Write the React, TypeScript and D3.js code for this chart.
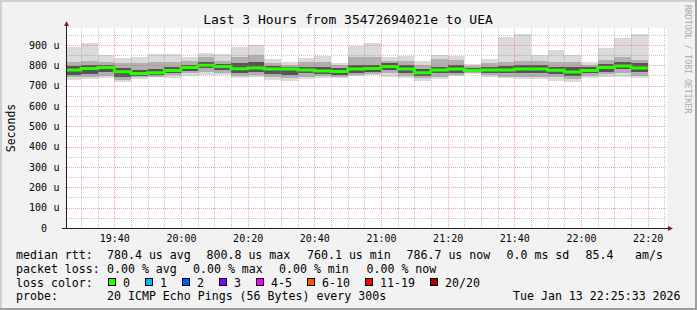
import React from 'react';
import * as d3 from 'd3';

// ---- data (5-minute bins, labelled by bin end time) ----
const binEnds = [
  "19:30", "19:35", "19:40", "19:45", "19:50", "19:55", "20:00", "20:05", "20:10", "20:15",
  "20:20", "20:25", "20:30", "20:35", "20:40", "20:45", "20:50", "20:55", "21:00", "21:05",
  "21:10", "21:15", "21:20", "21:25", "21:30", "21:35", "21:40", "21:45", "21:50", "21:55",
  "22:00", "22:05", "22:10", "22:15", "22:20",
];
// values in microseconds
const maxRtt = [892, 911, 851, 836, 843, 856, 856, 840, 862, 854, 892, 898, 830, 817, 836, 848, 813, 897, 911, 843, 846, 821, 851, 846, 805, 831, 941, 954, 851, 876, 851, 818, 884, 936, 954];
const upperQ = [818, 822, 818, 810, 810, 814, 818, 822, 843, 822, 843, 851, 810, 802, 814, 818, 802, 843, 843, 822, 822, 802, 830, 826, 798, 810, 818, 822, 822, 818, 818, 802, 826, 843, 826];
const coreHi = [798, 802, 802, 785, 777, 780, 794, 802, 816, 806, 810, 818, 798, 794, 794, 794, 785, 802, 802, 810, 802, 780, 794, 802, 789, 794, 798, 802, 802, 794, 790, 790, 806, 814, 810];
const medianRtt = [777, 784, 789, 769, 760, 764, 774, 789, 801, 794, 783, 787, 782, 782, 777, 772, 770, 782, 784, 794, 782, 764, 777, 782, 774, 777, 777, 782, 782, 776, 767, 774, 789, 797, 787];
const coreLo = [753, 756, 769, 741, 748, 753, 761, 774, 785, 777, 764, 769, 757, 753, 761, 757, 753, 764, 769, 777, 761, 748, 761, 764, 766, 764, 761, 764, 761, 757, 748, 761, 769, 780, 769];
const lowerQ = [741, 743, 748, 728, 741, 744, 753, 761, 769, 764, 748, 753, 741, 736, 744, 748, 744, 753, 757, 761, 748, 736, 744, 753, 762, 753, 744, 744, 744, 741, 731, 748, 757, 764, 748];
const minRtt = [728, 733, 739, 720, 734, 741, 738, 746, 753, 750, 736, 741, 728, 723, 733, 736, 736, 747, 752, 744, 739, 725, 733, 748, 757, 744, 736, 731, 731, 725, 720, 736, 744, 741, 736];

const yTickValues = [0, 100, 200, 300, 400, 500, 600, 700, 800, 900];
const xTickLabels = ["19:40", "20:00", "20:20", "20:40", "21:00", "21:20", "21:40", "22:00", "22:20"];

const lossLabels = ["0", "1", "2", "3", "4-5", "6-10", "11-19", "20/20"];
const lossColors = ["#26ff00", "#00b8ff", "#0059ff", "#7e00ff", "#ff00ff", "#ff5500", "#ff0000", "#a10000"];
const lossBoxX = [108.5, 145.5, 182.5, 219.5, 256.5, 307.5, 365.5, 430.5];

const row1 = [
  { x: 16, t: "median rtt:" }, { x: 107, t: "780.4 us avg" }, { x: 206.5, t: "800.8 us max" },
  { x: 307, t: "760.1 us min" }, { x: 406.5, t: "786.7 us now" }, { x: 506.5, t: "0.0 ms sd" },
  { x: 585.5, t: "85.4" }, { x: 635, t: "am/s" },
];
const row2 = [
  { x: 16, t: "packet loss:" }, { x: 107, t: "0.00 % avg" }, { x: 193, t: "0.00 % max" },
  { x: 279, t: "0.00 % min" }, { x: 366.5, t: "0.00 % now" },
];
const row4 = [
  { x: 16, t: "probe:" }, { x: 107, t: "20 ICMP Echo Pings (56 Bytes) every 300s" },
  { x: 513, t: "Tue Jan 13 22:25:33 2026" },
];

const W = 697, H = 310;
const PL = 67, PR = 667, PT = 28, PB = 228;
const MONO = "'DejaVu Sans Mono', monospace";

const parseT = (s: string) => {
  const [h, m] = s.split(":").map(Number);
  return new Date(2026, 0, 13, h, m, 0);
};

export default function App() {
  const t0 = new Date(2026, 0, 13, 19, 25, 48);
  const t1 = new Date(2026, 0, 13, 22, 25, 48);
  const x = d3.scaleTime().domain([t0, t1]).range([PL, PR]);
  const y = d3.scaleLinear().domain([0, 983.6]).range([PB, PT]);

  const ends = binEnds.map(parseT);
  const starts = ends.map((d) => d3.timeMinute.offset(d, -5));

  const snap = (v: number) => Math.round(v) + 0.5;

  const minorX = d3.timeMinute.every(5)!.range(t0, t1).filter((d) => d.getMinutes() % 20 !== 0);
  const majorX = d3.timeMinute.every(20)!.range(t0, t1);
  const minorY = d3.range(50, 984, 100);
  const majorY = d3.range(100, 984, 100);

  const layers = [
    { hi: maxRtt, lo: minRtt, fill: "#dadada" },
    { hi: upperQ, lo: lowerQ, fill: "#b0b0b0" },
    { hi: coreHi, lo: coreLo, fill: "#555555" },
  ];

  const medPts = medianRtt.map((v, i) => ({ t: starts[i], v }));
  medPts.push({ t: ends[ends.length - 1], v: medianRtt[medianRtt.length - 1] });
  const medLine = d3
    .line<{ t: Date; v: number }>()
    .x((d) => x(d.t))
    .y((d) => y(d.v))
    .curve(d3.curveStepAfter)(medPts);

  return (
    <svg
      width={W}
      height={H}
      style={{ position: "absolute", left: 0, top: 0, display: "block" }}
      fontFamily={MONO}
    >
      <defs>
        <clipPath id="plotclip">
          <rect x={PL} y={PT} width={PR - PL} height={PB - PT} />
        </clipPath>
      </defs>
      <rect x={0} y={0} width={W} height={H} fill="#f2f2f2" />
      {/* frame shades */}
      <rect x={0} y={0} width={W} height={2} fill="#cfcfcf" />
      <rect x={0} y={0} width={2} height={H} fill="#cfcfcf" />
      <rect x={0} y={H - 2} width={W} height={2} fill="#9e9e9e" />
      <rect x={W - 2} y={0} width={2} height={H} fill="#9e9e9e" />

      {/* canvas */}
      <rect x={PL} y={PT} width={PR - PL} height={PB - PT} fill="#ffffff" />

      {/* smoke */}
      <g clipPath="url(#plotclip)" shapeRendering="crispEdges">
        {layers.map((L, li) => (
          <g key={li}>
            {L.hi.map((hv, i) => (
              <rect
                key={i}
                x={Math.round(x(starts[i]))}
                y={Math.round(y(hv))}
                width={Math.round(x(ends[i])) - Math.round(x(starts[i]))}
                height={Math.round(y(L.lo[i])) - Math.round(y(hv))}
                fill={L.fill}
              />
            ))}
          </g>
        ))}
      </g>

      {/* median line */}
      <g clipPath="url(#plotclip)">
        <path d={medLine || ""} fill="none" stroke="#26ff00" strokeWidth={3} />
      </g>

      {/* grid */}
      <g shapeRendering="crispEdges" strokeDasharray="1,1">
        {minorY.map((v) => (
          <line key={"my" + v} x1={PL} x2={PR} y1={snap(y(v))} y2={snap(y(v))} stroke="rgba(143,143,143,0.5)" />
        ))}
        {minorX.map((d, i) => (
          <line key={"mx" + i} x1={snap(x(d))} x2={snap(x(d))} y1={PT} y2={PB} stroke="rgba(143,143,143,0.5)" />
        ))}
        {majorY.map((v) => (
          <line key={"My" + v} x1={PL - 2} x2={PR} y1={snap(y(v))} y2={snap(y(v))} stroke="rgba(240,90,90,0.55)" />
        ))}
        {majorX.map((d, i) => (
          <line key={"Mx" + i} x1={snap(x(d))} x2={snap(x(d))} y1={PT} y2={PB + 2} stroke="rgba(240,90,90,0.55)" />
        ))}
      </g>

      {/* axes */}
      <g shapeRendering="crispEdges">
        <line x1={PL - 0.5} x2={PL - 0.5} y1={PB} y2={PT - 4} stroke="#1f1f1f" />
        <line x1={PL - 5} x2={PR + 1} y1={PB + 0.5} y2={PB + 0.5} stroke="#1f1f1f" />
      </g>
      <path d={`M${PL - 3},${PT - 2} L${PL + 2},${PT - 2} L${PL - 0.5},${PT - 7} Z`} fill="#801f1f" />
      <path d={`M${PR + 1},${PB - 2} L${PR + 1},${PB + 3} L${PR + 6},${PB + 0.5} Z`} fill="#801f1f" />

      {/* y tick labels */}
      <g fontSize={10} fill="#000">
        {yTickValues.map((v) => (
          <g key={"yl" + v}>
            <text x={47} y={y(v) + 3.6} textAnchor="end">{d3.format("d")(v)}</text>
            {v !== 0 && <text x={53.5} y={y(v) + 3.6}>u</text>}
          </g>
        ))}
      </g>
      {/* x tick labels */}
      <g fontSize={10} fill="#000" textAnchor="middle">
        {xTickLabels.map((s) => (
          <text key={s} x={x(parseT(s)) + 0.5} y={242}>{s}</text>
        ))}
      </g>

      {/* titles */}
      <text x={348} y={23.5} fontSize={13} textAnchor="middle" fill="#000">
        Last 3 Hours from 35472694021e to UEA
      </text>
      <text transform="translate(15,128) rotate(-90)" fontSize={11.5} textAnchor="middle" fill="#000">
        Seconds
      </text>
      <text transform="translate(684.5,5) rotate(90)" fontSize={8.2} fill="#aaaaaa">
        RRDTOOL / TOBI OETIKER
      </text>

      {/* legend */}
      <g fontSize={11.6} fill="#000" style={{ whiteSpace: "pre" }}>
        {row1.map((r, i) => (
          <text key={"r1" + i} x={r.x} y={258.5}>{r.t}</text>
        ))}
        {row2.map((r, i) => (
          <text key={"r2" + i} x={r.x} y={272.5}>{r.t}</text>
        ))}
        <text x={16} y={286.5}>loss color:</text>
        {lossLabels.map((l, i) => (
          <g key={"lc" + i}>
            <rect x={lossBoxX[i]} y={278.5} width={7} height={7} fill={lossColors[i]} stroke="#000" strokeWidth={1} shapeRendering="crispEdges" />
            <text x={lossBoxX[i] + 14.5} y={286.5}>{l}</text>
          </g>
        ))}
        {row4.map((r, i) => (
          <text key={"r4" + i} x={r.x} y={300}>{r.t}</text>
        ))}
      </g>
    </svg>
  );
}
